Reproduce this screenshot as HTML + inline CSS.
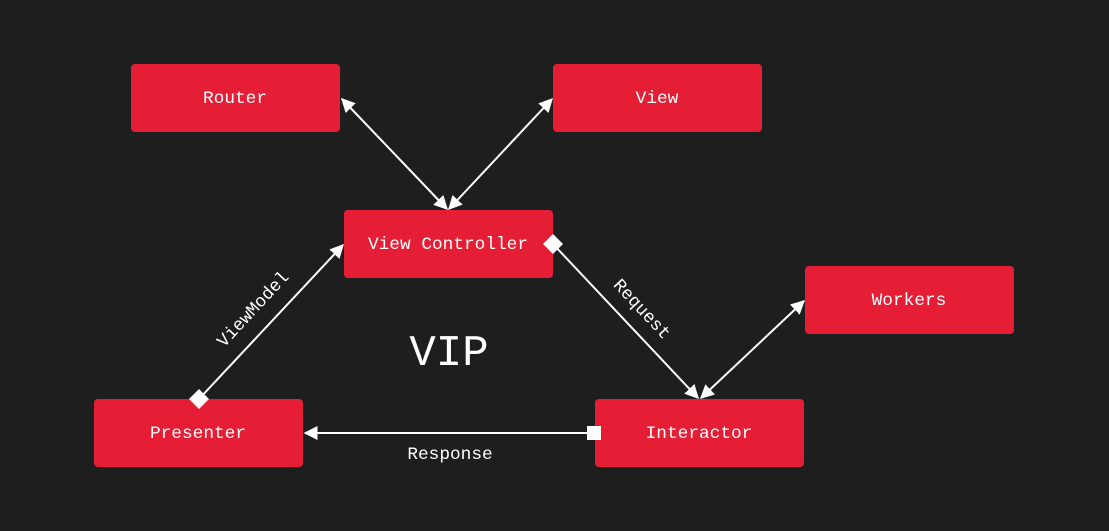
<!DOCTYPE html><html><head><style>body{margin:0;background:#1e1e1f}</style></head><body>
<svg width="1109" height="531" viewBox="0 0 1109 531" xmlns="http://www.w3.org/2000/svg" style="display:block">
<rect width="1109" height="531" fill="#1e1e1f"/>
<defs>
<marker id="a" viewBox="0 0 10 10" refX="9" refY="5" markerWidth="7" markerHeight="7" orient="auto-start-reverse"><path d="M0,0L10,5L0,10z" fill="#fff"/></marker>
</defs>
<g fill="#e61e35">
<rect x="131" y="64" width="209" height="68" rx="4"/>
<rect x="553" y="64" width="209" height="68" rx="4"/>
<rect x="344" y="210" width="209" height="68" rx="4"/>
<rect x="805" y="266" width="209" height="68" rx="4"/>
<rect x="94" y="399" width="209" height="68" rx="4"/>
<rect x="595" y="399" width="209" height="68" rx="4"/>
</g>
<g stroke="#fff" stroke-width="2" fill="none">
<line x1="342" y1="99" x2="447" y2="209" marker-start="url(#a)" marker-end="url(#a)"/>
<line x1="552" y1="99" x2="449" y2="209" marker-start="url(#a)" marker-end="url(#a)"/>
<line x1="199" y1="399" x2="343" y2="245" marker-end="url(#a)"/>
<line x1="553" y1="244" x2="698" y2="398" marker-end="url(#a)"/>
<line x1="701" y1="398" x2="804" y2="301" marker-start="url(#a)" marker-end="url(#a)"/>
<line x1="594" y1="433" x2="305" y2="433" marker-end="url(#a)"/>
</g>
<g fill="#fff">
<path d="M199,389L209,399L199,409L189,399z"/>
<path d="M553,234L563,244L553,254L543,244z"/>
<rect x="587" y="426" width="14" height="14"/>
</g>
<g fill="#fff" font-family="'Liberation Mono',monospace" font-size="17.8" text-anchor="middle" dominant-baseline="central">
<text x="235" y="99">Router</text>
<text x="657" y="99">View</text>
<text x="448" y="245">View Controller</text>
<text x="909" y="301">Workers</text>
<text x="198" y="434">Presenter</text>
<text x="699" y="434">Interactor</text>
<text x="450" y="455">Response</text>
<text x="254" y="310" transform="rotate(-47 254 310)">ViewModel</text>
<text x="641" y="310" transform="rotate(47 641 310)">Request</text>
<text x="449" y="354" font-size="44">VIP</text>
</g>
</svg>
</body></html>
